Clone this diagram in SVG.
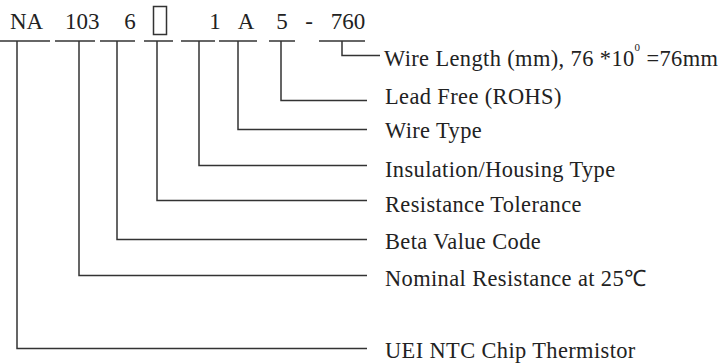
<svg xmlns="http://www.w3.org/2000/svg" width="722" height="364" viewBox="0 0 722 364">
<style>
.code{font-family:"Liberation Serif","Times New Roman",serif;font-size:23px;fill:#222}
.lbl{font-family:"Liberation Serif","Times New Roman",serif;font-size:22.4px;letter-spacing:0.4px;fill:#222}
.ln{stroke:#333;stroke-width:1.5;fill:none}
</style>
<rect width="722" height="364" fill="#fff"/>
<g id="code-NA"><text class="code" x="10" y="29">NA</text><line class="ln" x1="0" y1="41" x2="50" y2="41"/></g>
<g id="code-103"><text class="code" x="65" y="29">103</text><line class="ln" x1="55" y1="41" x2="95" y2="41"/></g>
<g id="code-6"><text class="code" x="130" y="29" text-anchor="middle">6</text><line class="ln" x1="100" y1="41" x2="135" y2="41"/></g>
<g id="code-box"><rect class="ln" x="153.5" y="6.5" width="13" height="28"/><line class="ln" x1="144" y1="41" x2="173" y2="41"/></g>
<g id="code-1"><text class="code" x="215" y="29" text-anchor="middle">1</text><line class="ln" x1="181" y1="41" x2="215" y2="41"/></g>
<g id="code-A"><text class="code" x="246" y="29" text-anchor="middle">A</text><line class="ln" x1="219" y1="41" x2="257" y2="41"/></g>
<g id="code-5"><text class="code" x="282" y="29" text-anchor="middle">5</text><line class="ln" x1="269" y1="41" x2="295" y2="41"/></g>
<g id="code-dash"><text class="code" x="309" y="29" text-anchor="middle">-</text></g>
<g id="code-760"><text class="code" x="348" y="29" text-anchor="middle">760</text><line class="ln" x1="319" y1="41" x2="365" y2="41"/></g>

<g id="connectors">
<polyline class="ln" points="342,41 342,55.5 380,55.5"/>
<polyline class="ln" points="281,41 281,100.5 367,100.5"/>
<polyline class="ln" points="238,41 238,129.5 367,129.5"/>
<polyline class="ln" points="199,41 199,165.5 367,165.5"/>
<polyline class="ln" points="157,41 157,200.5 367,200.5"/>
<polyline class="ln" points="117,41 117,239.5 367,239.5"/>
<polyline class="ln" points="79,41 79,275.5 367,275.5"/>
<polyline class="ln" points="17,41 17,348.5 367,348.5"/>
</g>

<g id="label-wire-length"><text class="lbl" x="384" y="66">Wire Length (mm), 76 *10<tspan font-size="11" dy="-15">0</tspan><tspan dy="15"> =76mm</tspan></text></g>
<g id="label-lead-free"><text class="lbl" x="385" y="104">Lead Free (ROHS)</text></g>
<g id="label-wire-type"><text class="lbl" x="385" y="138">Wire Type</text></g>
<g id="label-insulation"><text class="lbl" x="385" y="177">Insulation/Housing Type</text></g>
<g id="label-tolerance"><text class="lbl" x="385" y="212">Resistance Tolerance</text></g>
<g id="label-beta"><text class="lbl" x="385" y="249">Beta Value Code</text></g>
<g id="label-nominal"><text class="lbl" x="385" y="286">Nominal Resistance at 25℃</text></g>
<g id="label-uei"><text class="lbl" x="385" y="358">UEI NTC Chip Thermistor</text></g>
</svg>
